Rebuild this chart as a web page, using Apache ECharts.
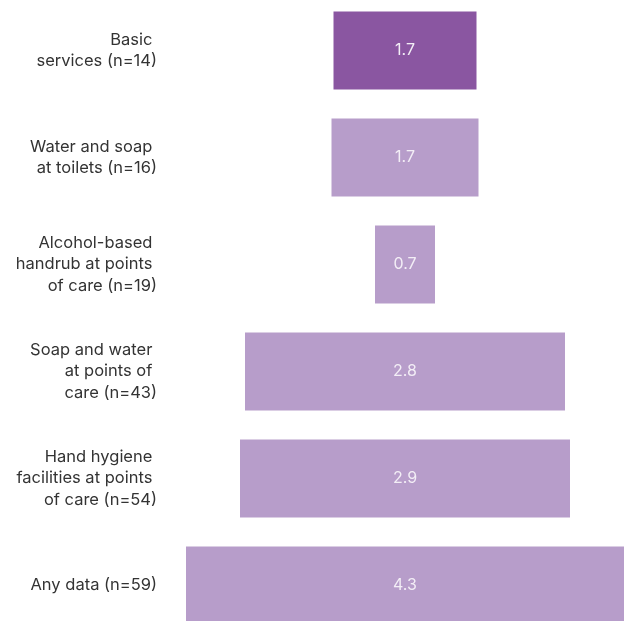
<!DOCTYPE html>
<html>
<head>
<meta charset="utf-8">
<script src="https://cdn.jsdelivr.net/npm/echarts@6/dist/echarts.min.js"></script>
<style>
html,body{margin:0;padding:0;background:#fff;overflow:hidden;}
#chart{width:624px;height:642px;position:relative;top:-3px;}
</style>
</head>
<body>
<div id="chart"></div>
<script>
var categories = [
  'Basic \nservices (n=14)',
  'Water and soap \nat toilets (n=16)',
  'Alcohol-based \nhandrub at points \nof care (n=19)',
  'Soap and water \nat points of \ncare (n=43)',
  'Hand hygiene \nfacilities at points \nof care (n=54)',
  'Any data (n=59)'
];
var valueLabels = [1.7, 1.7, 0.7, 2.8, 2.9, 4.3];
var barSpan = [143, 147, 60, 320, 330, 438];
var barColors = ['#8a56a1', '#b79dca', '#b79dca', '#b79dca', '#b79dca', '#b79dca'];

var leftHalf = barSpan.map(function (s, i) {
  return { value: -s / 2, itemStyle: { color: barColors[i] } };
});
var rightHalf = barSpan.map(function (s, i) {
  return { value: s / 2, itemStyle: { color: barColors[i] } };
});

var chart = echarts.init(document.getElementById('chart'));
chart.setOption({
  animation: false,
  grid: { left: 186, right: 0, top: 0, bottom: 0, containLabel: false },
  xAxis: {
    type: 'value', min: -219, max: 219, show: false
  },
  yAxis: {
    type: 'category',
    data: categories,
    inverse: true,
    axisLine: { show: false },
    axisTick: { show: false },
    axisLabel: {
      margin: 29,
      fontFamily: 'Inter',
      fontSize: 16.5,
      lineHeight: 21.5,
      color: '#333333',
      align: 'right'
    }
  },
  series: [
    {
      type: 'bar', stack: 'c', barWidth: 78, data: leftHalf,
      silent: true
    },
    {
      type: 'bar', stack: 'c', barWidth: 78, data: rightHalf,
      silent: true,
      label: {
        show: true,
        position: [0, '50%'],
        align: 'center',
        verticalAlign: 'middle',
        fontFamily: 'Inter',
        fontSize: 16,
        color: '#f3eef6',
        formatter: function (p) { return valueLabels[p.dataIndex].toFixed(1); }
      }
    }
  ]
});
</script>
</body>
</html>
